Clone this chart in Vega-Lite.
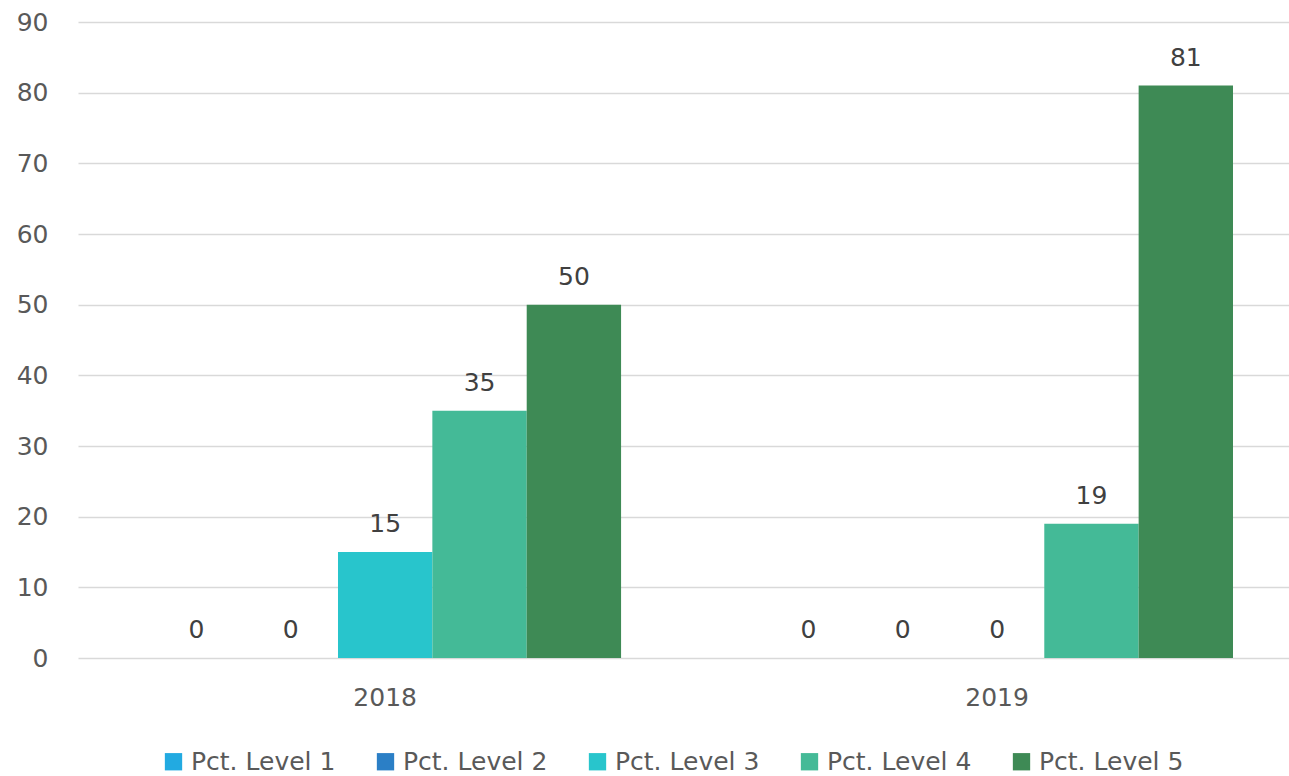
{
  "$schema": "https://vega.github.io/schema/vega-lite/v6.json",
  "width": 1211,
  "height": 636,
  "autosize": "none",
  "padding": {"left": 78, "top": 22, "right": 0, "bottom": 118},
  "background": "white",
  "config": {
    "font": "DejaVu Sans",
    "view": {"stroke": null}
  },
  "data": {
    "values": [
      {"year": "2018", "level": "Pct. Level 1", "value": 0},
      {"year": "2018", "level": "Pct. Level 2", "value": 0},
      {"year": "2018", "level": "Pct. Level 3", "value": 15},
      {"year": "2018", "level": "Pct. Level 4", "value": 35},
      {"year": "2018", "level": "Pct. Level 5", "value": 50},
      {"year": "2019", "level": "Pct. Level 1", "value": 0},
      {"year": "2019", "level": "Pct. Level 2", "value": 0},
      {"year": "2019", "level": "Pct. Level 3", "value": 0},
      {"year": "2019", "level": "Pct. Level 4", "value": 19},
      {"year": "2019", "level": "Pct. Level 5", "value": 81}
    ]
  },
  "encoding": {
    "x": {
      "field": "year",
      "type": "nominal",
      "scale": {"paddingInner": 0.229, "paddingOuter": 0.104, "align": 0.56},
      "axis": {
        "title": null,
        "labelAngle": 0,
        "labelFontSize": 25,
        "labelColor": "#595959",
        "labelPadding": 27,
        "ticks": false,
        "domain": false,
        "grid": false
      }
    },
    "xOffset": {
      "field": "level",
      "type": "nominal",
      "scale": {"paddingInner": 0, "paddingOuter": 0}
    },
    "y": {
      "field": "value",
      "type": "quantitative",
      "scale": {"domain": [0, 90], "nice": false},
      "axis": {
        "title": null,
        "values": [0, 10, 20, 30, 40, 50, 60, 70, 80, 90],
        "labelFontSize": 25,
        "labelColor": "#595959",
        "labelPadding": 30,
        "ticks": false,
        "domain": false,
        "gridColor": "#D9D9D9",
        "gridWidth": 1.3
      }
    }
  },
  "layer": [
    {
      "mark": {"type": "bar"},
      "encoding": {
        "color": {
          "field": "level",
          "type": "nominal",
          "scale": {
            "domain": ["Pct. Level 1", "Pct. Level 2", "Pct. Level 3", "Pct. Level 4", "Pct. Level 5"],
            "range": ["#22AAE1", "#2B7FC6", "#28C5CC", "#44BA97", "#3E8A55"]
          },
          "legend": {
            "title": null,
            "orient": "none",
            "legendX": 83,
            "legendY": 727,
            "direction": "horizontal",
            "symbolType": "square",
            "symbolSize": 300,
            "symbolStrokeWidth": 0,
            "labelFontSize": 25,
            "labelColor": "#595959",
            "columnPadding": 37,
            "labelOffset": 5,
            "padding": 0
          }
        }
      }
    },
    {
      "mark": {"type": "text", "baseline": "bottom", "dy": -15, "fontSize": 25, "color": "#404040"},
      "encoding": {
        "text": {"field": "value", "type": "quantitative"}
      }
    }
  ]
}
